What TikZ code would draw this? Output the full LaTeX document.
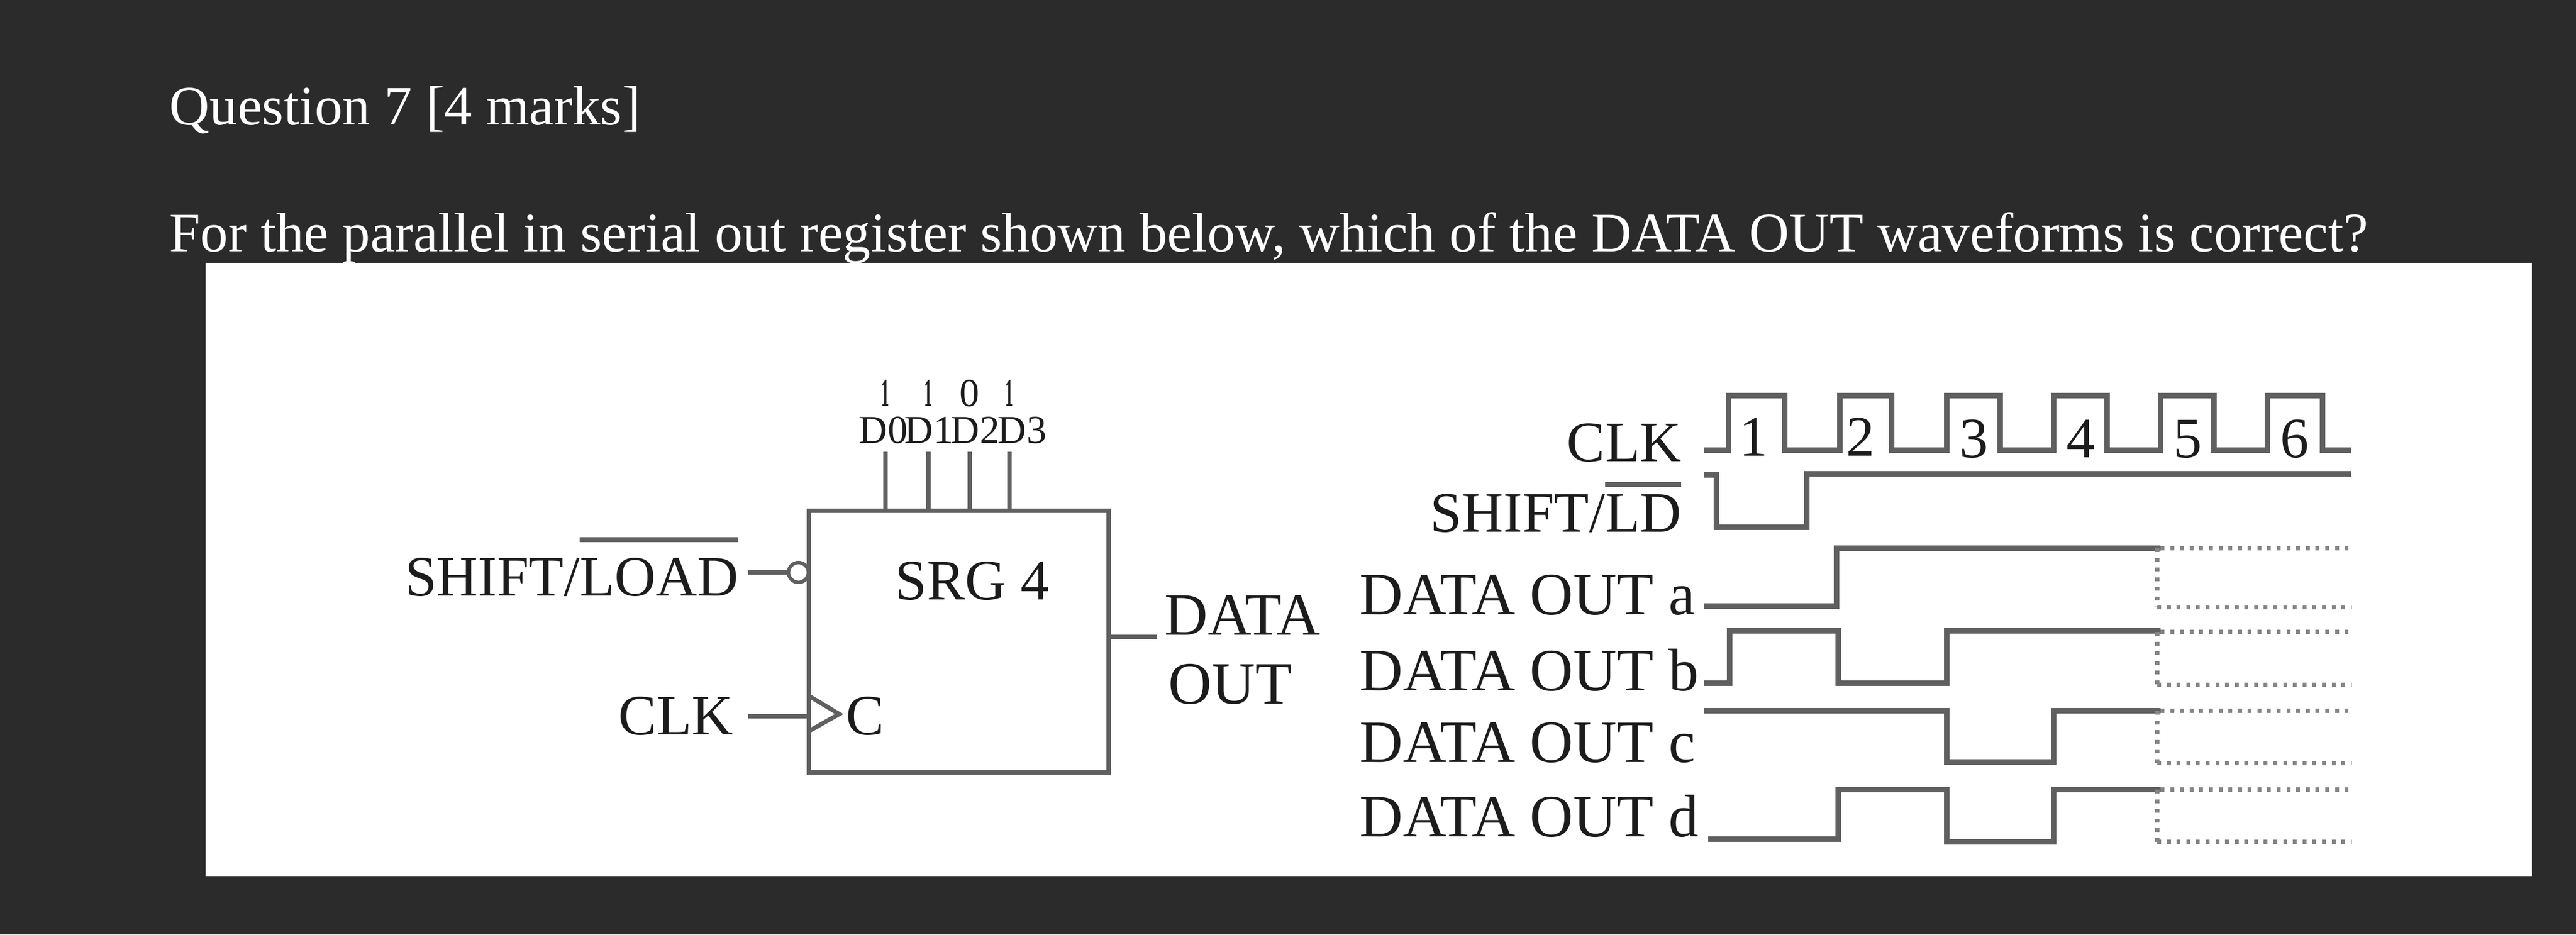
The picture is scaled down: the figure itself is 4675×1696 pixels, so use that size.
\documentclass[tikz,border=0pt]{standalone}
\usepackage{fontspec}
\setmainfont{Liberation Serif}
\definecolor{screen}{HTML}{2B2B2B}
\definecolor{ink}{HTML}{1C1C1C}
\definecolor{trace}{HTML}{606060}
\definecolor{fade}{HTML}{858585}
% text with a raised bar over it, #1 = height of the bar
\newcommand{\barred}[2]{\setbox0\hbox{#2}\rlap{\textcolor{trace}{\rule[#1]{\wd0}{2.6pt}}}\box0}

\begin{document}
\begin{tikzpicture} [x=0.01cm, y=-0.01cm]
\tikzstyle{every node}=[inner sep=0pt, text=ink, font=\fontsize{29.5}{33}\selectfont];
\tikzstyle{title}=[anchor=base west, text=white, font=\fontsize{28.7}{32}\selectfont];
\tikzstyle{lab}=[anchor=base west];
\tikzstyle{rlab}=[anchor=base east];
\tikzstyle{outlab}=[anchor=base west, font=\fontsize{31}{35}\selectfont];
\tikzstyle{pin}=[anchor=base, font=\fontsize{20.5}{24}\selectfont];
\tikzstyle{line}=[draw=trace, line width=2.2pt];
\tikzstyle{wave}=[draw=trace, line width=2.8pt, line join=miter];
\tikzstyle{dots}=[draw=fade, line width=2.4pt, dash pattern=on 2pt off 3pt];
\fill [screen] (0, 0) rectangle (4675, 1696);
\node [title] (q7) at (307, 226) {Question 7 [4 marks]};
\node [title] (ask) at (307, 456) {For the parallel in serial out register shown below, which of the DATA OUT waveforms is correct?};
\fill [white] (373, 477) rectangle (4595, 1590);
% register
\node [draw=trace, line width=2.2pt, minimum width=544*0.01cm, minimum height=475*0.01cm] (srg) at (1740, 1164.5) {};
\node [lab] (srgname) at (1624, 1088) {SRG 4};
\node [rlab] (shiftload) at (1341, 1081) {SHIFT/\barred{27.5pt}{LOAD}};
\node [rlab] (clkin) at (1331, 1333) {CLK};
\node [lab] (cpin) at (1535, 1333) {C};
\node [pin] (p0) at (1603, 804) {D0};
\node [pin] (p1) at (1686, 804) {D1};
\node [pin] (p2) at (1770, 804) {D2};
\node [pin] (p3) at (1855, 804) {D3};
\node [pin] (b0) at (1607, 737) {\scalebox{.4}[1]{\bfseries 1}};
\node [pin] (b1) at (1685, 737) {\scalebox{.4}[1]{\bfseries 1}};
\node [pin] (b2) at (1760, 737) {0};
\node [pin] (b3) at (1832, 737) {\scalebox{.4}[1]{\bfseries 1}};
\coordinate (s0) at (1607, 820);
\coordinate (s1) at (1685, 820);
\coordinate (s2) at (1760, 820);
\coordinate (s3) at (1832, 820);
\draw [line] (s0) -- (s0 |- srg.north);
\draw [line] (s1) -- (s1 |- srg.north);
\draw [line] (s2) -- (s2 |- srg.north);
\draw [line] (s3) -- (s3 |- srg.north);
\node [draw=trace, line width=1.8pt, circle, minimum size=36*0.01cm, fill=white] (bubble) at (1449, 1039) {};
\coordinate (slin) at (1358, 1039);
\coordinate (clin) at (1358, 1300);
\coordinate (dout) at (2100, 1156);
\draw [line] (slin) -- (bubble);
\draw [line] (clin) -- (clin -| srg.west);
\draw [line] (srg.east |- dout) -- (dout);
\draw [line] (1468, 1263) -- (1523, 1296) -- (1468, 1327);
\node [outlab] (data) at (2113, 1152) {DATA};
\node [outlab] (out) at (2120, 1277) {OUT};
% waveform labels
\node [rlab] (clk) at (3052, 837) {CLK};
\node [rlab] (shiftld) at (3052, 965) {SHIFT/\barred{23pt}{LD}};
\node [outlab] (outa) at (2467, 1115) {DATA OUT a};
\node [outlab] (outb) at (2467, 1253) {DATA OUT b};
\node [outlab] (outc) at (2467, 1383) {DATA OUT c};
\node [outlab] (outd) at (2467, 1518) {DATA OUT d};
\node [anchor=base] (n1) at (3182, 827) {1};
\node [anchor=base] (n2) at (3376, 827) {2};
\node [anchor=base] (n3) at (3582, 830) {3};
\node [anchor=base] (n4) at (3776, 830) {4};
\node [anchor=base] (n5) at (3970, 830) {5};
\node [anchor=base] (n6) at (4164, 830) {6};
% waveforms
\draw [wave] (3093, 817) -- (3137, 817) -- (3137, 718) -- (3239, 718) -- (3239, 817)
-- (3339, 817) -- (3339, 718) -- (3433, 718) -- (3433, 817)
-- (3533, 817) -- (3533, 718) -- (3630, 718) -- (3630, 817)
-- (3727, 817) -- (3727, 718) -- (3824, 718) -- (3824, 817)
-- (3921, 817) -- (3921, 718) -- (4018, 718) -- (4018, 817)
-- (4115, 817) -- (4115, 718) -- (4215, 718) -- (4215, 817) -- (4267, 817);
\draw [wave] (3093, 862) -- (3115, 862) -- (3115, 957) -- (3279, 957) -- (3279, 860) -- (4267, 860);
\draw [wave] (3093, 1100) -- (3333, 1100) -- (3333, 995) -- (3921, 995);
\draw [wave] (3093, 1240) -- (3139, 1240) -- (3139, 1145) -- (3336, 1145) -- (3336, 1240)
-- (3533, 1240) -- (3533, 1145) -- (3921, 1145);
\draw [wave] (3093, 1290) -- (3533, 1290) -- (3533, 1383) -- (3727, 1383) -- (3727, 1290) -- (3921, 1290);
\draw [wave] (3100, 1523) -- (3336, 1523) -- (3336, 1433) -- (3533, 1433) -- (3533, 1528)
-- (3727, 1528) -- (3727, 1433) -- (3921, 1433);
% dotted ends
\draw [dots] (3921, 995) -- (4267, 995);
\draw [dots] (3915, 1102) -- (4267, 1102);
\draw [dots] (3915, 995) -- (3915, 1102);
\draw [dots] (3921, 1147) -- (4267, 1147);
\draw [dots] (3915, 1243) -- (4267, 1243);
\draw [dots] (3915, 1147) -- (3915, 1243);
\draw [dots] (3921, 1290) -- (4267, 1290);
\draw [dots] (3915, 1385) -- (4267, 1385);
\draw [dots] (3915, 1290) -- (3915, 1385);
\draw [dots] (3921, 1433) -- (4267, 1433);
\draw [dots] (3915, 1528) -- (4267, 1528);
\draw [dots] (3915, 1433) -- (3915, 1528);
\end{tikzpicture}
\end{document}
